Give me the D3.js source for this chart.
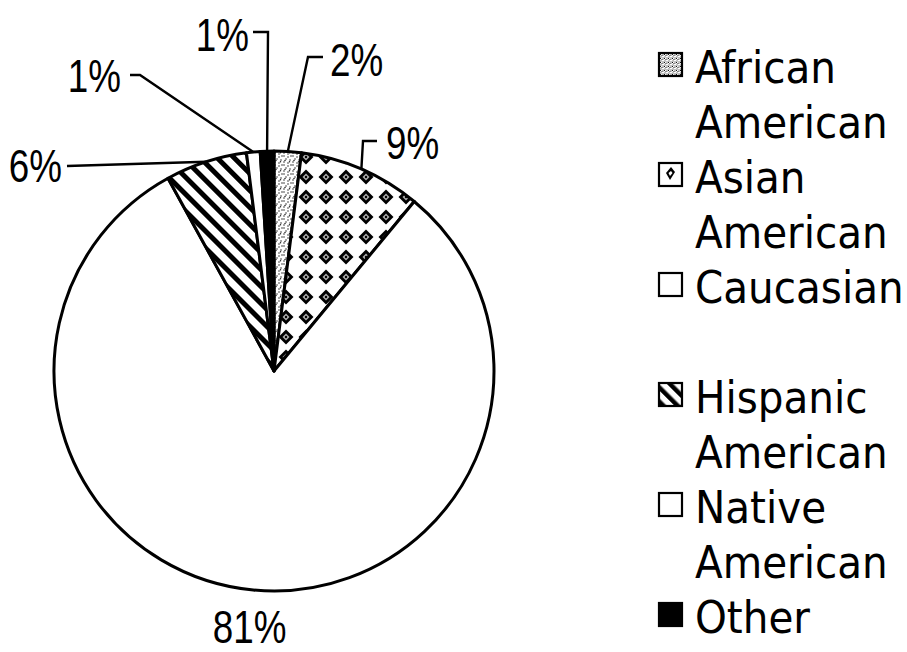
<!DOCTYPE html>
<html>
<head>
<meta charset="utf-8">
<script src="https://cdn.jsdelivr.net/npm/d3@7"></script>
<style>
  html, body { margin: 0; padding: 0; background: #fff; }
  svg { display: block; }
  .pct { font-family: "Liberation Sans", Arial, sans-serif; font-size: 46px; fill: #000; }
  .leg { font-family: "DejaVu Sans Condensed", "DejaVu Sans", sans-serif; font-stretch: condensed; font-size: 45px; fill: #000; }
</style>
</head>
<body>
<svg id="chart" width="907" height="652"></svg>
<script>
// Ethnic composition, percent of total
const categories = ["African American", "Asian American", "Caucasian", "Hispanic American", "Native American", "Other"];
const percents = [2, 9, 81, 6, 1, 1];
const legendLines = [["African", "American"], ["Asian", "American"], ["Caucasian"], ["Hispanic", "American"], ["Native", "American"], ["Other"]];
const fills = ["url(#stipple)", "url(#diamonds)", "#fff", "url(#stripes)", "#fff", "#000"];
const swatchFills = ["url(#stippleDense)", "url(#diamondSwatch)", "#fff", "url(#stripesSwatch)", "#fff", "#000"];

// Label placement: leader-line bend points and text anchors
const labelLayout = [
  { pts: [[308, 57], [323, 57]], tx: 330, ty: 76, anchor: "start" },
  { pts: [[363, 141], [377, 141]], tx: 386, ty: 159, anchor: "start" },
  null,
  { pts: [[67, 166]], tx: 62, ty: 182, anchor: "end" },
  { pts: [[140, 75], [130, 75]], tx: 121, ty: 92, anchor: "end" },
  { pts: [[268, 32], [253, 32]], tx: 249, ty: 51, anchor: "end" }
];
const labelSquash = 0.8; // narrow numerals

const svg = d3.select("#chart");
const cx = 274, cy = 371, r = 220;

// ---- fill patterns ----
const defs = svg.append("defs");

// fine stipple
const stip = defs.append("pattern").attr("id", "stipple")
  .attr("patternUnits", "userSpaceOnUse").attr("width", 9).attr("height", 9);
stip.append("rect").attr("width", 9).attr("height", 9).attr("fill", "#fff");
[[1, 1], [5, 2], [3, 4], [7, 5], [1, 7], [5, 8], [8, 1], [2, 5.5], [6.5, 6.8]].forEach(p =>
  stip.append("circle").attr("cx", p[0]).attr("cy", p[1]).attr("r", 0.75).attr("fill", "#222"));

const stipD = defs.append("pattern").attr("id", "stippleDense")
  .attr("patternUnits", "userSpaceOnUse").attr("width", 4).attr("height", 4);
stipD.append("rect").attr("width", 4).attr("height", 4).attr("fill", "#fff");
[[0.5, 0.5], [2.5, 1.5], [1.5, 3], [3.5, 3.5], [0, 2]].forEach(p =>
  stipD.append("rect").attr("x", p[0]).attr("y", p[1]).attr("width", 1).attr("height", 1).attr("fill", "#111"));

// diamond lattice
const dia = defs.append("pattern").attr("id", "diamonds")
  .attr("patternUnits", "userSpaceOnUse").attr("width", 20).attr("height", 20)
  .attr("x", cx + 8).attr("y", cy + 5);
dia.append("rect").attr("width", 20).attr("height", 20).attr("fill", "#fff");
dia.append("path").attr("d", "M10,2.5 L17.5,10 L10,17.5 L2.5,10 Z").attr("fill", "#000");
dia.append("path").attr("d", "M10,6.5 L13.5,10 L10,13.5 L6.5,10 Z").attr("fill", "#aaa");
dia.append("circle").attr("cx", 10).attr("cy", 10).attr("r", 1.2).attr("fill", "#000");

const diaS = defs.append("pattern").attr("id", "diamondSwatch")
  .attr("patternUnits", "objectBoundingBox").attr("width", 1).attr("height", 1);
diaS.append("rect").attr("width", 24).attr("height", 24).attr("fill", "#fff");
diaS.append("path").attr("d", "M12,4 L16,9 L11,17 L7,10 Z").attr("fill", "#000");
diaS.append("path").attr("d", "M12,8 L13.5,10 L11,13 L9.5,10 Z").attr("fill", "#fff");

// diagonal hatching
const str = defs.append("pattern").attr("id", "stripes")
  .attr("patternUnits", "userSpaceOnUse").attr("width", 12).attr("height", 12)
  .attr("patternTransform", "rotate(-45)");
str.append("rect").attr("width", 12).attr("height", 12).attr("fill", "#fff");
str.append("rect").attr("x", 0).attr("width", 5).attr("height", 12).attr("fill", "#000");

const strS = defs.append("pattern").attr("id", "stripesSwatch")
  .attr("patternUnits", "userSpaceOnUse").attr("width", 10).attr("height", 10)
  .attr("patternTransform", "rotate(-45)");
strS.append("rect").attr("width", 10).attr("height", 10).attr("fill", "#fff");
strS.append("rect").attr("width", 4.5).attr("height", 10).attr("fill", "#000");

// ---- pie ----
const pie = d3.pie().sort(null).value(d => d)(percents);
const arc = d3.arc().innerRadius(0).outerRadius(r);
const rimArc = d3.arc().innerRadius(r).outerRadius(r);
const outerLabelArc = d3.arc().innerRadius(260).outerRadius(260);

const g = svg.append("g").attr("transform", `translate(${cx},${cy})`);
g.selectAll("path.slice").data(pie).join("path")
  .attr("class", "slice")
  .attr("d", arc)
  .attr("fill", (d, i) => fills[i])
  .attr("stroke", "#000")
  .attr("stroke-width", 3)
  .attr("stroke-linejoin", "round");

// ---- percentage labels with leaders ----
const lab = svg.append("g");
function pctText(x, y, anchor, text) {
  lab.append("text").attr("class", "pct")
    .attr("transform", `translate(${x},${y}) scale(${labelSquash},1)`)
    .attr("text-anchor", anchor).text(text);
}
pie.forEach((d, i) => {
  const L = labelLayout[i];
  const text = percents[i] + "%";
  if (!L) {
    const c = outerLabelArc.centroid(d);
    pctText(cx + c[0], cy + c[1] + 13, "middle", text);
    return;
  }
  const start = rimArc.centroid(d);
  const pts = [[cx + start[0], cy + start[1]]].concat(L.pts);
  lab.append("path")
    .attr("d", d3.line()(pts))
    .attr("fill", "none").attr("stroke", "#000").attr("stroke-width", 2.4);
  pctText(L.tx, L.ty, L.anchor, text);
});

// ---- legend ----
const legX = 659, textX = 695, baseY = 83, lineH = 55, sw = 23;
const leg = svg.append("g");
let line = 0;
categories.forEach((c, i) => {
  if (i === 3) line += 1; // blank row between the two groups
  const y0 = baseY + line * lineH;
  leg.append("rect")
    .attr("x", legX).attr("y", y0 - 30).attr("width", sw).attr("height", sw)
    .attr("fill", swatchFills[i]).attr("stroke", "#000").attr("stroke-width", 2.2);
  legendLines[i].forEach((t, k) => {
    leg.append("text").attr("class", "leg")
      .attr("x", textX).attr("y", y0 + k * lineH).text(t);
  });
  line += legendLines[i].length;
});
</script>
</body>
</html>
